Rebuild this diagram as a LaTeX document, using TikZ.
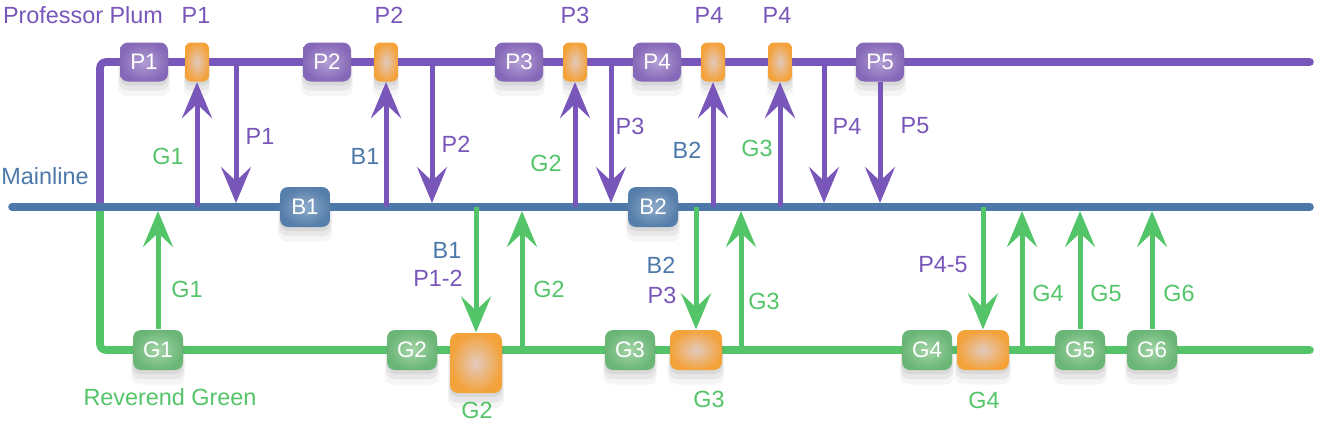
\documentclass[tikz,border=0pt]{standalone}
\usepackage{fontspec}
\setmainfont{Liberation Sans}
\definecolor{plum}{RGB}{120,86,186}
\definecolor{mainblue}{RGB}{76,121,170}
\definecolor{revgreen}{RGB}{84,196,104}
\usetikzlibrary{arrows.meta,shadows}

\begin{document}
\begin{tikzpicture}[x=0.5pt,y=-0.5pt,>={Stealth[length=18pt,width=15pt,inset=7pt]},
	semithick]
	\tikzstyle{commit}=[minimum width=24pt,minimum height=19.5pt,rounded corners=4pt,inner sep=0pt,text=white,font=\fontsize{11.2}{13}\selectfont,
		drop shadow={shadow xshift=0pt,shadow yshift=-2pt,opacity=0.14},
		drop shadow={shadow xshift=0pt,shadow yshift=-4pt,shadow scale=1.04,opacity=0.12},
		drop shadow={shadow xshift=0pt,shadow yshift=-6pt,shadow scale=1.08,opacity=0.08}]
	\tikzstyle{pcommit}=[commit,inner color={rgb,255:red,178;green,158;blue,212},outer color={rgb,255:red,134;green,104;blue,184}]
	\tikzstyle{bcommit}=[commit,minimum width=25pt,minimum height=20pt,inner color={rgb,255:red,142;green,170;blue,202},outer color={rgb,255:red,86;green,126;blue,170}]
	\tikzstyle{gcommit}=[commit,minimum width=25pt,minimum height=20pt,inner color={rgb,255:red,164;green,212;blue,168},outer color={rgb,255:red,106;green,182;blue,118}]
	\tikzstyle{merge}=[commit,minimum width=26pt,minimum height=20pt,inner color={rgb,255:red,226;green,202;blue,190},outer color={rgb,255:red,244;green,162;blue,58}]
	\tikzstyle{pmerge}=[merge,minimum width=12pt,minimum height=19.5pt,rounded corners=3pt]
	\tikzstyle{track}=[line width=3.8pt,line cap=round,rounded corners=3pt]
	\tikzstyle{parrow}=[->,plum,line width=2.5pt]
	\tikzstyle{garrow}=[->,revgreen,line width=2.5pt]
	\tikzstyle{lbl}=[inner sep=0pt,font=\fontsize{11.7}{14}\selectfont]

	\useasboundingbox (0,0) rectangle (1320,428);

	% tracks
	\coordinate (ml) at (0,207);
	\coordinate (pc) at (100,62);
	\coordinate (pe) at (1310,62);
	\coordinate (mc) at (100,207);
	\coordinate (ms) at (12,207);
	\coordinate (me) at (1310,207);
	\coordinate (gc) at (100,350);
	\coordinate (ge) at (1310,350);
	\draw[track,plum] (pe) -- (pc) -- (mc);
	\draw[track,revgreen] (mc) -- (gc) -- (ge);
	\draw[track,mainblue] (ms) -- (me);

	% commits
	\node[pcommit] (p1) at (144,62) {P1};
	\node[pmerge] (x1) at (197,62) {};
	\node[pcommit] (p2) at (327,62) {P2};
	\node[pmerge] (x2) at (386,62) {};
	\node[pcommit] (p3) at (519,62) {P3};
	\node[pmerge] (x3) at (575,62) {};
	\node[pcommit] (p4) at (657,62) {P4};
	\node[pmerge] (x4) at (713,62) {};
	\node[pmerge] (x5) at (780,62) {};
	\node[pcommit] (p5) at (880,62) {P5};
	\node[bcommit] (b1) at (305,207) {B1};
	\node[bcommit] (b2) at (653,207) {B2};
	\node[gcommit] (g1) at (158,350) {G1};
	\node[gcommit] (g2) at (412,350) {G2};
	\node[merge,minimum height=30pt] (y2) at (476,363) {};
	\node[gcommit] (g3) at (630,350) {G3};
	\node[merge] (y3) at (696,350) {};
	\node[gcommit] (g4) at (927,350) {G4};
	\node[merge] (y4) at (983,350) {};
	\node[gcommit] (g5) at (1080,350) {G5};
	\node[gcommit] (g6) at (1152,350) {G6};

	% merges
	\coordinate (d1) at (236,62);
	\coordinate (d2) at (432,62);
	\coordinate (d3) at (611,62);
	\coordinate (d4) at (824,62);
	\coordinate (u2) at (522,350);
	\coordinate (u3) at (741,350);
	\coordinate (u4) at (1022,350);
	\path[parrow]
	(x1 |- ml) edge (x1)
	(d1) edge[shorten >=2pt] (d1 |- ml)
	(x2 |- ml) edge (x2)
	(d2) edge[shorten >=2pt] (d2 |- ml)
	(x3 |- ml) edge (x3)
	(d3) edge[shorten >=2pt] (d3 |- ml)
	(x4 |- ml) edge (x4)
	(x5 |- ml) edge (x5)
	(d4) edge[shorten >=2pt] (d4 |- ml)
	(p5) edge[shorten >=2pt] (p5 |- ml)
	;
	\path[garrow]
	(g1) edge[shorten >=2pt] (g1 |- ml)
	(y2 |- ml) edge (y2)
	(u2) edge[shorten >=2pt] (u2 |- ml)
	(y3 |- ml) edge (y3)
	(u3) edge[shorten >=2pt] (u3 |- ml)
	(y4 |- ml) edge (y4)
	(u4) edge[shorten >=2pt] (u4 |- ml)
	(g5) edge[shorten >=2pt] (g5 |- ml)
	(g6) edge[shorten >=2pt] (g6 |- ml)
	;

	% labels
	\node[lbl,plum] (tp) at (83,15) {Professor Plum};
	\node[lbl,plum] (t1) at (196,15) {P1};
	\node[lbl,plum] (t2) at (389,15) {P2};
	\node[lbl,plum] (t3) at (575,15) {P3};
	\node[lbl,plum] (t4) at (709,15) {P4};
	\node[lbl,plum] (t5) at (777,15) {P4};
	\node[lbl,mainblue] (tm) at (45,176) {Mainline};
	\node[lbl,revgreen] (tg) at (170,397) {Reverend Green};
	\node[lbl,revgreen] at (168,156) {G1};
	\node[lbl,plum] at (260,136) {P1};
	\node[lbl,mainblue] at (365,156) {B1};
	\node[lbl,plum] at (456,144) {P2};
	\node[lbl,revgreen] at (546,163) {G2};
	\node[lbl,plum] at (630,126) {P3};
	\node[lbl,mainblue] at (687,150) {B2};
	\node[lbl,revgreen] at (757,148) {G3};
	\node[lbl,plum] at (847,126) {P4};
	\node[lbl,plum] at (915,126) {P5};
	\node[lbl,revgreen] at (187,289) {G1};
	\node[lbl,mainblue] at (447,250) {B1};
	\node[lbl,plum] at (438,278) {P1-2};
	\node[lbl,revgreen] at (549,289) {G2};
	\node[lbl,revgreen] at (477,410) {G2};
	\node[lbl,mainblue] at (661,265) {B2};
	\node[lbl,plum] at (662,295) {P3};
	\node[lbl,revgreen] at (764,301) {G3};
	\node[lbl,revgreen] at (709,399) {G3};
	\node[lbl,plum] at (943,265) {P4-5};
	\node[lbl,revgreen] at (1048,293) {G4};
	\node[lbl,revgreen] at (1106,293) {G5};
	\node[lbl,revgreen] at (1179,293) {G6};
	\node[lbl,revgreen] at (984,400) {G4};
\end{tikzpicture}
\end{document}
